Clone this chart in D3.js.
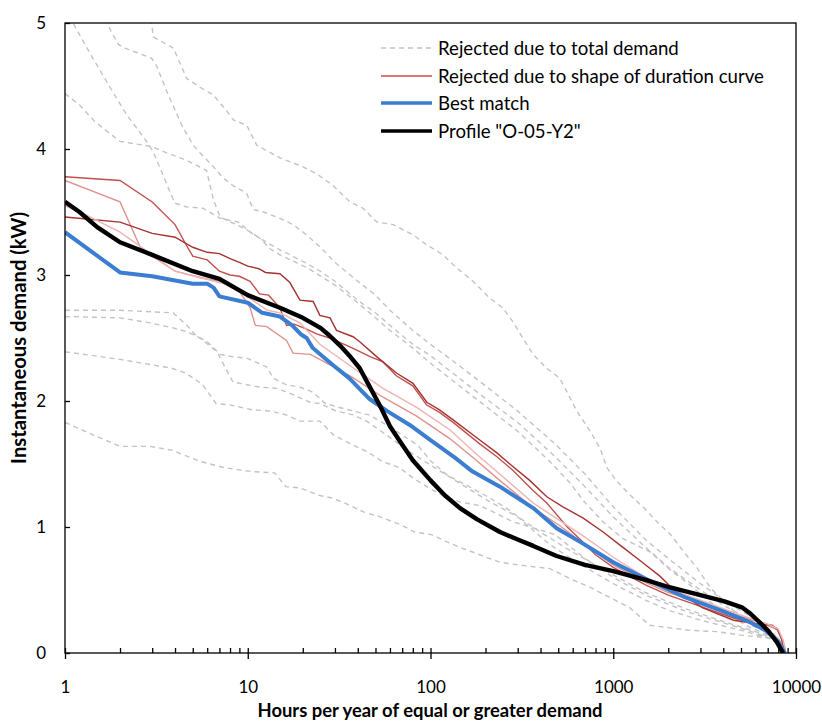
<!DOCTYPE html>
<html>
<head>
<meta charset="utf-8">
<script src="https://cdn.jsdelivr.net/npm/d3@7"></script>
<style>
  body { margin: 0; background: #fff; }
  svg { display: block; }
  text { font-family: Lato, "Noto Sans", sans-serif; fill: #000; }
</style>
</head>
<body>
<svg id="chart" width="822" height="722"></svg>
<script>
// ---- axis values ----
const hourTicks = [1, 10, 100, 1000, 10000];
const demandTicks = [0, 1, 2, 3, 4, 5];

// ---- load duration curves: [hours per year, kW] ----
// candidates rejected due to total demand
const rejTotal1 = [[2.85,5.1],[2.98,5.0],[3.04,4.89],[3.92,4.80],[4.63,4.56],[5.48,4.49],[6.48,4.43],[7.68,4.30],[8.35,4.23],[9.86,4.19],[11.2,4.03],[12.2,4.0],[15,3.93],[17.7,3.89],[20,3.86],[24,3.80],[29.3,3.71],[36.3,3.58],[42.7,3.53],[50.9,3.42],[62.4,3.40],[80,3.32],[95.4,3.24],[117,3.16],[138,3.06],[171,2.95],[210,2.82],[248,2.74],[282,2.63],[320,2.50],[364,2.37],[432,2.26],[510,2.18],[632,1.92],[748,1.76],[850,1.62],[924,1.47],[1050,1.36],[1245,1.25],[1475,1.15],[1740,1.04],[2060,0.94],[2440,0.80],[2890,0.67],[3430,0.51],[4060,0.41],[4800,0.30],[5700,0.22],[6740,0.17],[7980,0.12],[8760,0.04]];
const rejTotal2 = [[1.6,5.1],[1.69,5.0],[1.96,4.83],[2.13,4.80],[2.98,4.72],[3.17,4.66],[3.6,4.46],[4.35,4.19],[5.03,4.03],[5.48,3.97],[6.48,3.86],[7.34,3.77],[8.3,3.71],[9.86,3.65],[10.7,3.52],[12.2,3.50],[15,3.45],[17.7,3.40],[20.5,3.33],[25,3.22],[30,3.10],[40,2.95],[50,2.84],[60,2.72],[80,2.56],[100,2.45],[150,2.26],[200,2.12],[300,1.92],[480,1.66],[700,1.42],[1000,1.16],[1500,0.90],[2000,0.75],[3000,0.55],[4000,0.42],[5500,0.30],[7000,0.20],[8760,0.05]];
const rejTotal3 = [[1,5.12],[1.106,5.0],[1.42,4.72],[1.83,4.45],[2.18,4.27],[2.80,4.06],[3.03,3.98],[3.31,3.85],[3.75,3.66],[4.0,3.57],[4.63,3.54],[5.69,3.53],[7.06,3.45],[8.9,3.42],[10.3,3.34],[11.7,3.29],[13.2,3.21],[15,3.16],[17.7,3.11],[21,3.06],[30,2.92],[40,2.78],[50,2.66],[60,2.56],[80,2.42],[100,2.30],[150,2.10],[200,1.96],[300,1.76],[450,1.52],[580,1.35],[685,1.21],[880,1.04],[1125,0.91],[1600,0.80],[2050,0.66],[2630,0.54],[3360,0.41],[4300,0.30],[5500,0.21],[7100,0.14],[8450,0.06]];
const rejTotal4 = [[1,4.44],[1.2,4.35],[1.45,4.22],[2,4.06],[2.98,4.02],[3.6,3.97],[4.63,3.91],[5.95,3.83],[6.48,3.60],[7.06,3.46],[8.35,3.41],[9.86,3.36],[12,3.28],[15,3.20],[20.5,3.10],[25,3.03],[30,2.95],[40,2.80],[50,2.70],[60,2.60],[80,2.45],[100,2.36],[150,2.16],[200,2.02],[300,1.83],[480,1.56],[700,1.32],[1000,1.08],[1500,0.84],[2000,0.68],[3000,0.50],[4000,0.38],[5500,0.27],[7000,0.18],[8760,0.05]];
const rejTotal5 = [[1,2.72],[2,2.72],[3.9,2.70],[4.65,2.60],[5.2,2.52],[6.0,2.47],[7.06,2.37],[8.3,2.35],[9.9,2.34],[12.7,2.27],[13.8,2.18],[16.2,2.13],[19.3,2.11],[22.7,2.07],[26.6,1.98],[31.5,1.95],[38,1.92],[46,1.89],[57.5,1.81],[70,1.73],[85,1.65],[101,1.52],[124,1.41],[158,1.33],[200,1.25],[260,1.15],[330,1.04],[420,0.94],[600,0.80],[1000,0.62],[1500,0.48],[2500,0.35],[4000,0.25],[6000,0.17],[8000,0.10],[8760,0.04]];
const rejTotal6 = [[1,2.67],[2,2.66],[2.92,2.62],[3.9,2.58],[4.65,2.55],[5.48,2.50],[6.79,2.39],[8.3,2.15],[9.06,2.14],[11.65,2.11],[14.5,2.10],[17.7,2.05],[21.9,1.99],[24.8,1.98],[30.6,1.92],[37.7,1.89],[44.7,1.84],[57.5,1.73],[80,1.58],[120,1.42],[200,1.22],[300,1.08],[450,0.86],[600,0.74],[1000,0.55],[1500,0.42],[2000,0.34],[3000,0.26],[5000,0.18],[7000,0.12],[8760,0.04]];
const rejTotal7 = [[1,2.39],[1.43,2.36],[2,2.33],[2.92,2.29],[3.84,2.26],[4.6,2.22],[5.66,2.13],[6.7,1.98],[7.9,1.97],[10.6,1.93],[13.3,1.92],[16.2,1.89],[19.3,1.84],[24.8,1.84],[29.5,1.73],[37.7,1.65],[44.7,1.60],[54.5,1.52],[68,1.47],[80,1.39],[95.5,1.32],[117,1.25],[144,1.20],[186,1.17],[220,1.12],[285,1.04],[370,0.99],[480,0.94],[700,0.75],[1000,0.60],[1500,0.46],[2500,0.33],[4000,0.24],[6000,0.16],[8000,0.09],[8760,0.03]];
const rejTotal8 = [[1,1.83],[1.43,1.73],[2,1.64],[2.92,1.64],[3.84,1.61],[5.5,1.52],[7.5,1.47],[10.5,1.44],[14,1.43],[16.2,1.32],[19.3,1.31],[24.8,1.25],[29,1.23],[34,1.19],[43,1.12],[53,1.08],[68,1.02],[82,0.96],[101,0.94],[124,0.88],[150,0.83],[186,0.78],[240,0.72],[300,0.70],[390,0.68],[450,0.67],[580,0.59],[750,0.52],[960,0.44],[1230,0.36],[1580,0.22],[2030,0.20],[2610,0.18],[3660,0.17],[5100,0.14],[7130,0.12],[8450,0.05]];

// candidates rejected due to the shape of the duration curve
const rejShape1 = [[1,3.78],[2,3.75],[3,3.58],[4,3.40],[4.6,3.24],[5,3.15],[6,3.12],[7,3.03],[8,3.0],[9,2.99],[10.3,2.95],[11.6,2.85],[13,2.84],[15,2.74],[16.3,2.60],[18,2.61],[21,2.57],[24,2.53],[28,2.50],[35,2.44],[40,2.40],[47,2.35],[55,2.31],[65,2.20],[80,2.12],[95,1.97],[112,1.91],[133,1.83],[186,1.66],[230,1.56],[282,1.45],[364,1.29],[433,1.19],[560,1.00],[660,0.90],[800,0.78],[1000,0.68],[1500,0.54],[2000,0.46],[3000,0.37],[4500,0.28],[6000,0.23],[7000,0.22],[7800,0.20],[8300,0.12],[8600,0.03]];
const rejShape2 = [[1,3.75],[2,3.58],[2.6,3.21],[4,3.03],[5.9,2.97],[7,2.95],[9,2.87],[10.3,2.74],[11,2.60],[12.7,2.59],[16.3,2.48],[17.7,2.38],[22,2.37],[24.8,2.33],[36.3,2.20],[55,2.03],[84,1.88],[128,1.70],[178,1.53],[239,1.37],[365,1.15],[510,1.01],[700,0.86],[1000,0.70],[1500,0.56],[2000,0.48],[3000,0.40],[5000,0.29],[7000,0.22],[8000,0.18],[8500,0.10],[8760,0]];
const rejShape3 = [[1,3.46],[2,3.42],[3,3.33],[4,3.30],[5,3.22],[6,3.18],[7,3.17],[8,3.13],[9,3.10],[10,3.07],[11.5,3.05],[12.5,3.02],[15,3.01],[17,2.94],[19.3,2.80],[22.8,2.79],[24.8,2.68],[28.2,2.66],[30.6,2.56],[37.7,2.51],[41,2.47],[50.9,2.35],[65.4,2.22],[80.2,2.14],[95.5,1.99],[112,1.93],[133,1.85],[186,1.69],[230,1.59],[282,1.48],[349,1.37],[433,1.24],[530,1.16],[685,1.07],[880,0.96],[1125,0.84],[1440,0.72],[1800,0.61],[2050,0.53],[3070,0.36],[4550,0.26],[6270,0.23],[7400,0.22],[8000,0.18],[8500,0.08],[8700,0]];
const rejShape4 = [[1,3.55],[1.21,3.50],[2,3.34],[3,3.16],[4,3.03],[5.1,2.99],[7.5,2.93],[9.9,2.83],[12.8,2.72],[15,2.70],[19.3,2.62],[24.8,2.45],[36.3,2.28],[55,2.10],[84,1.95],[128,1.77],[178,1.58],[239,1.42],[365,1.19],[510,1.05],[700,0.92],[1000,0.76],[1500,0.60],[2000,0.51],[3000,0.42],[5000,0.30],[7000,0.23],[8000,0.19],[8500,0.10],[8760,0]];

// best matching candidate
const bestMatch = [[1,3.34],[2,3.02],[3,2.99],[5,2.93],[6,2.93],[6.5,2.90],[7,2.83],[10,2.78],[12,2.70],[15,2.67],[17.5,2.60],[19.5,2.53],[21,2.50],[22.7,2.42],[29,2.29],[36,2.18],[46,2.02],[58,1.92],[77,1.81],[100,1.69],[136,1.55],[170,1.44],[240,1.32],[365,1.15],[490,0.99],[680,0.87],[1000,0.72],[1600,0.57],[2400,0.45],[4000,0.33],[5500,0.25],[6800,0.18],[8000,0.09],[8700,0]];

// measured profile "O-05-Y2"
const profile = [[1,3.58],[1.2,3.50],[1.5,3.38],[2,3.26],[3,3.16],[5,3.03],[7,2.97],[10,2.84],[15,2.74],[20,2.66],[25,2.58],[28,2.52],[32,2.44],[36,2.36],[41,2.26],[47,2.10],[53,1.96],[60,1.80],[68,1.68],[80,1.53],[100,1.37],[120,1.25],[145,1.15],[180,1.06],[240,0.96],[300,0.90],[365,0.85],[490,0.77],[700,0.70],[1000,0.65],[1500,0.58],[2050,0.52],[3000,0.46],[4060,0.41],[5100,0.36],[5550,0.32],[6260,0.25],[7100,0.17],[7830,0.09],[8500,0]];

const rejectedTotal = [rejTotal1, rejTotal2, rejTotal3, rejTotal4, rejTotal5, rejTotal6, rejTotal7, rejTotal8];
const rejectedShape = [rejShape1, rejShape2, rejShape3, rejShape4];
const shapeColors = ["#c0504d", "#e0928e", "#a5322f", "#eeb4b1"];

const legendLabels = ["Rejected due to total demand", "Rejected due to shape of duration curve", "Best match", "Profile \"O-05-Y2\""];

// ---- layout ----
const plot = { left: 65, right: 796, top: 23, bottom: 653 };
const svg = d3.select("#chart");

const x = d3.scaleLog().domain([1, 10000]).range([plot.left, plot.right]);
const y = d3.scaleLinear().domain([0, 5]).range([plot.bottom, plot.top]);

// size a text element so that it spans the given width
function fitWidth(sel, width) {
  const w = sel.node().getComputedTextLength();
  const fs = parseFloat(sel.attr("font-size"));
  sel.attr("font-size", (fs * width / w).toFixed(2));
}

svg.append("defs").append("clipPath").attr("id", "plotClip")
  .append("rect")
  .attr("x", plot.left).attr("y", plot.top)
  .attr("width", plot.right - plot.left).attr("height", plot.bottom - plot.top);

const line = d3.line().x(d => x(d[0])).y(d => y(d[1]));
const curves = svg.append("g").attr("clip-path", "url(#plotClip)");

curves.selectAll("path.total").data(rejectedTotal).join("path")
  .attr("class", "total")
  .attr("d", line)
  .attr("fill", "none")
  .attr("stroke", "#c3c3c3")
  .attr("stroke-width", 1.4)
  .attr("stroke-dasharray", "5,4");

curves.selectAll("path.shape").data(rejectedShape).join("path")
  .attr("class", "shape")
  .attr("d", line)
  .attr("fill", "none")
  .attr("stroke", (d, i) => shapeColors[i])
  .attr("stroke-width", 1.4);

curves.append("path").datum(bestMatch)
  .attr("d", line).attr("fill", "none")
  .attr("stroke", "#3a7dd1").attr("stroke-width", 4)
  .attr("stroke-linejoin", "round");

curves.append("path").datum(profile)
  .attr("d", line).attr("fill", "none")
  .attr("stroke", "#000").attr("stroke-width", 4.4)
  .attr("stroke-linejoin", "round");

// ---- frame ----
svg.append("rect")
  .attr("x", plot.left).attr("y", plot.top)
  .attr("width", plot.right - plot.left).attr("height", plot.bottom - plot.top)
  .attr("fill", "none").attr("stroke", "#000").attr("stroke-width", 1.3);

// ---- x axis: majors cross the axis, minors point inward ----
const minorHours = [];
for (let d = 1; d < 10000; d *= 10) for (let k = 2; k <= 9; k++) minorHours.push(d * k);

const xMajor = svg.append("g").attr("transform", `translate(0,${plot.bottom})`)
  .call(d3.axisBottom(x).tickValues(hourTicks).tickFormat(d3.format("d")).tickSize(6).tickPadding(22));
const xInner = svg.append("g").attr("transform", `translate(0,${plot.bottom})`)
  .call(d3.axisTop(x).tickValues(hourTicks.concat(minorHours)).tickFormat("").tickSize(5));
[xMajor, xInner].forEach(g => {
  g.select(".domain").remove();
  g.selectAll("line").attr("stroke", "#000").attr("stroke-width", 1.3);
});
xMajor.selectAll("text").attr("font-size", 17).style("font-family", "Lato, sans-serif");

// ---- y axis: ticks point inward ----
const yLabels = svg.append("g").attr("transform", `translate(${plot.left},0)`)
  .call(d3.axisLeft(y).tickValues(demandTicks).tickFormat(d3.format("d")).tickSize(0).tickPadding(19));
const yInner = svg.append("g").attr("transform", `translate(${plot.left},0)`)
  .call(d3.axisRight(y).tickValues(demandTicks).tickFormat("").tickSize(5));
[yLabels, yInner].forEach(g => {
  g.select(".domain").remove();
  g.selectAll("line").attr("stroke", "#000").attr("stroke-width", 1.3);
});
yLabels.selectAll("text").attr("font-size", 17).style("font-family", "Lato, sans-serif");

// ---- axis titles ----
const xTitle = svg.append("text")
  .attr("x", 430).attr("y", 717)
  .attr("text-anchor", "middle")
  .attr("font-size", 17).attr("font-weight", "bold")
  .text("Hours per year of equal or greater demand");
fitWidth(xTitle, 345);

const yTitle = svg.append("text")
  .attr("transform", `translate(18,${(plot.top + plot.bottom) / 2}) rotate(-90)`)
  .attr("text-anchor", "middle").attr("dominant-baseline", "central")
  .attr("font-size", 17).attr("font-weight", "bold")
  .text("Instantaneous demand (kW)");
fitWidth(yTitle, 252);

// ---- legend ----
const legendStyles = [
  { stroke: "#c3c3c3", width: 1.4, dash: "5,4" },
  { stroke: "#c8504d", width: 1.4, dash: null },
  { stroke: "#3a7dd1", width: 3.5, dash: null },
  { stroke: "#000", width: 3.5, dash: null }
];
const legend = svg.append("g");
const rowY = [48, 76, 103, 131];
const legendText = [];
legendLabels.forEach((label, i) => {
  const s = legendStyles[i];
  legend.append("line")
    .attr("x1", 381).attr("x2", 432).attr("y1", rowY[i]).attr("y2", rowY[i])
    .attr("stroke", s.stroke).attr("stroke-width", s.width)
    .attr("stroke-dasharray", s.dash);
  legendText.push(legend.append("text")
    .attr("x", 438).attr("y", rowY[i])
    .attr("dominant-baseline", "central")
    .attr("font-size", 17)
    .text(label));
});
// one common size, set by the longest entry
const longest = legendText[1];
fitWidth(longest, 326);
legendText.forEach(t => t.attr("font-size", longest.attr("font-size")));
</script>
</body>
</html>
